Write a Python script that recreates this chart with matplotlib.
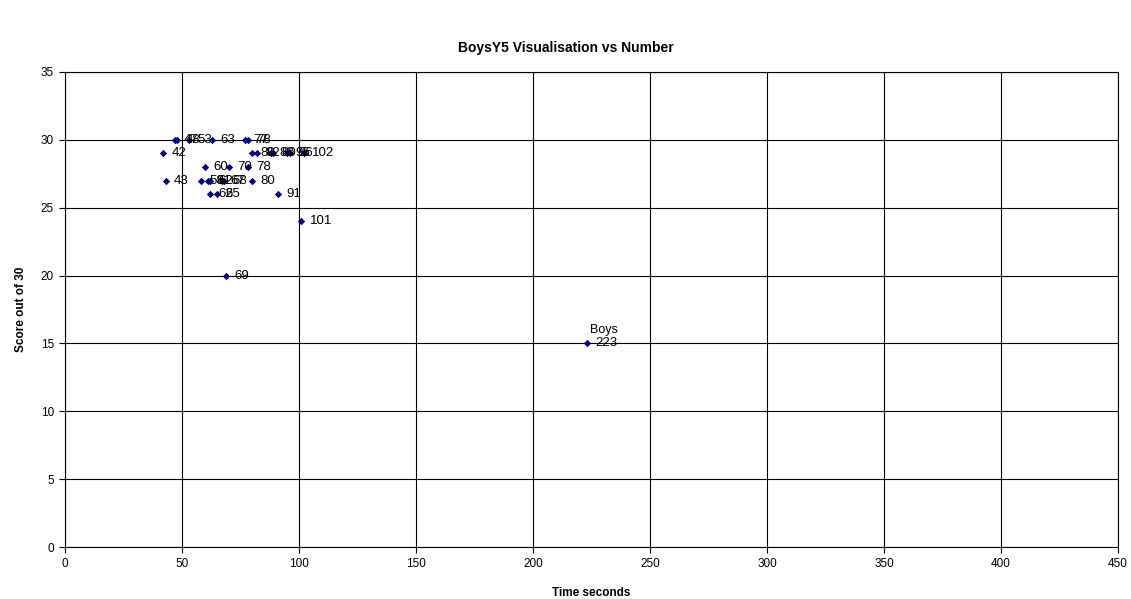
import matplotlib
matplotlib.use("Agg")
import matplotlib.pyplot as plt

plt.rcParams['font.family'] = ['Liberation Sans', 'DejaVu Sans']

# Time taken (seconds) and score for each boy
times = [47, 48, 53, 63, 77, 78,
         42, 80, 82, 88, 89, 95, 96, 102,
         60, 70, 78,
         43, 58, 61, 62, 67, 68, 80,
         62, 65, 91,
         101, 69, 223]
scores = [30, 30, 30, 30, 30, 30,
          29, 29, 29, 29, 29, 29, 29, 29,
          28, 28, 28,
          27, 27, 27, 27, 27, 27, 27,
          26, 26, 26,
          24, 20, 15]
series_name = "Boys"
named_point = 223

x_ticks = list(range(0, 451, 50))
y_ticks = list(range(0, 36, 5))

fig = plt.figure(figsize=(11.31, 5.99), dpi=100)
ax = fig.add_axes([0.0575, 0.0868, 0.931, 0.793])

ax.scatter(times, scores, marker='D', s=14, color='#000080', zorder=3,
           linewidths=0)

for t, s in zip(times, scores):
    ax.annotate(str(t), (t, s), xytext=(6, 0), textcoords='offset points',
                va='center', ha='left', fontsize=9.5, color='black', zorder=4)
    if t == named_point:
        ax.annotate(series_name, (t, s), xytext=(2, 10),
                    textcoords='offset points', va='center', ha='left',
                    fontsize=9, color='black', zorder=4)

ax.set_xlim(0, 450)
ax.set_ylim(0, 35)
ax.set_xticks(x_ticks)
ax.set_yticks(y_ticks)
ax.grid(True, color='black', linewidth=0.8)
ax.set_axisbelow(True)
for sp in ax.spines.values():
    sp.set_color('black')
    sp.set_linewidth(0.8)
ax.tick_params(axis='both', labelsize=8.5, length=4, width=0.8,
               direction='out', pad=4)

ax.set_xlabel("Time seconds", fontsize=8.5, fontweight='bold', labelpad=12)
ax.set_ylabel("Score out of 30", fontsize=8.5, fontweight='bold', labelpad=10)
fig.suptitle("BoysY5 Visualisation vs Number", fontsize=10, fontweight='bold',
             y=0.932)

fig.savefig("out.png", dpi=100)
